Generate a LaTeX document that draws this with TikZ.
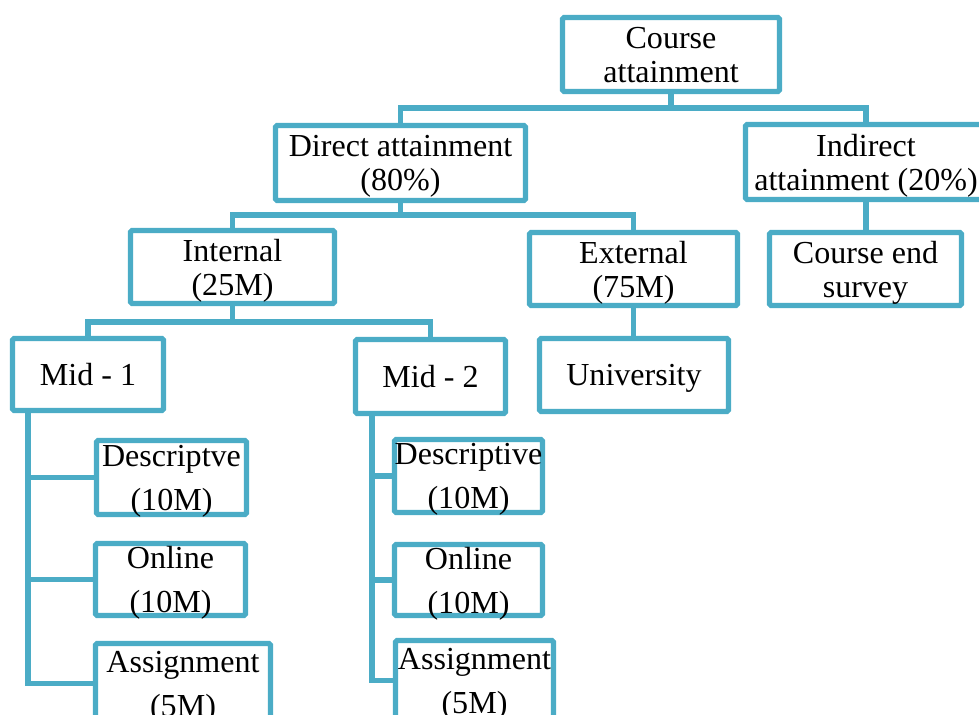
\documentclass[tikz,border=0pt]{standalone}
\usepackage{fontspec}
\setmainfont{Liberation Serif}
\usepackage{tikz}
\definecolor{boxblue}{HTML}{4BACC6}

\begin{document}
\begin{tikzpicture}[
      every node/.style={font=\fontsize{22.8}{24.2}\selectfont},
      box/.style={draw=boxblue, line width=3.6pt, rounded corners=1pt, fill=white,
                  inner sep=0pt, text depth=0pt, align=center},
      sub/.style={box, font=\fontsize{22.8}{31.3}\selectfont},
      link/.style={draw=boxblue, line width=3.6pt}
    ]
    \useasboundingbox (0,0) rectangle (24.475,17.875);

    % top levels
    \node[box, minimum width=5.425cm, minimum height=1.85cm] (course) at (16.775,16.5125) {Course\\attainment};
    \node[box, minimum width=6.25cm, minimum height=1.875cm] (direct) at (10.0125,13.8) {Direct attainment\\(80\%)};
    \node[box, minimum width=6.025cm, minimum height=1.875cm] (indirect) at (21.65,13.825) {Indirect\\attainment (20\%)};
    \node[box, minimum width=5.1cm, minimum height=1.825cm] (internal) at (5.8125,11.2) {Internal\\(25M)};
    \node[box, minimum width=5.2cm, minimum height=1.825cm] (external) at (15.8375,11.15) {External\\(75M)};
    \node[box, minimum width=4.8cm, minimum height=1.825cm] (survey) at (21.6375,11.15) {Course end\\survey};
    \node[box, minimum width=3.775cm, minimum height=1.8cm] (midA) at (2.2,8.5125) {Mid - 1};
    \node[box, minimum width=3.75cm, minimum height=1.85cm] (midB) at (10.7625,8.4625) {Mid - 2};
    \node[box, minimum width=4.725cm, minimum height=1.825cm] (university) at (15.85,8.5) {University};

    % leaves
    \node[sub, minimum width=3.75cm, minimum height=1.85cm] (desc1) at (4.2875,5.9375) {Descriptve\\(10M)};
    \node[sub, minimum width=3.75cm, minimum height=1.8cm] (online1) at (4.2625,3.3875) {Online\\(10M)};
    \node[sub, minimum width=4.375cm, minimum height=2.0cm] (assign1) at (4.575,0.7875) {Assignment\\(5M)};
    \node[sub, minimum width=3.7cm, minimum height=1.825cm] (desc2) at (11.7125,5.975) {Descriptive\\(10M)};
    \node[sub, minimum width=3.7cm, minimum height=1.775cm] (online2) at (11.7125,3.375) {Online\\(10M)};
    \node[sub, minimum width=3.95cm, minimum height=2.0cm] (assign2) at (11.8625,0.8625) {Assignment\\(5M)};

    \coordinate (busA) at (0,15.175);
    \coordinate (busB) at (0,12.5);
    \coordinate (busC) at (0,9.825);
    \coordinate (trunkA) at (0.7,0);
    \coordinate (trunkB) at (9.3,0);

    \draw[link] (course.south) -- (course.south |- busA) -| (direct.north);
    \draw[link] (course.south |- busA) -| (indirect.north);
    \draw[link] (indirect.south) -- (indirect.south |- survey.north);
    \draw[link] (direct.south) -- (direct.south |- busB) -| (internal.north);
    \draw[link] (direct.south |- busB) -| (external.north);
    \draw[link] (external.south) -- (external.south |- university.north);
    \draw[link] (internal.south) -- (internal.south |- busC) -| (midA.north);
    \draw[link] (internal.south |- busC) -| (midB.north);

    \foreach \leaf in {desc1,online1,assign1}
      \draw[link] (midA.south -| trunkA) |- (\leaf.west);
    \foreach \leaf in {desc2,online2,assign2}
      \draw[link] (midB.south -| trunkB) |- (\leaf.west);
  \end{tikzpicture}
\end{document}
